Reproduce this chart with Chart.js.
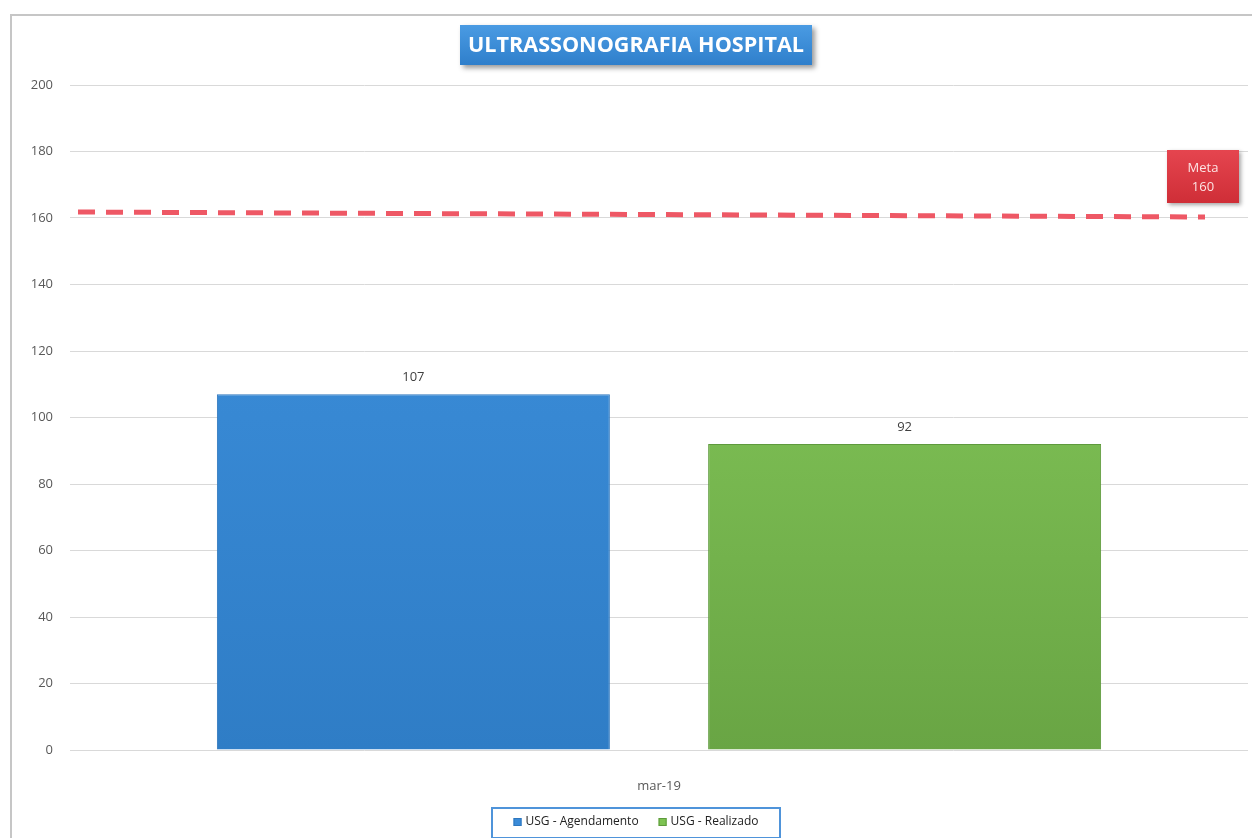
<!DOCTYPE html>
<html><head><meta charset="utf-8">
<script src="https://cdn.jsdelivr.net/npm/chart.js@4.4.0/dist/chart.umd.min.js"></script>
<style>
html,body{margin:0;padding:0;background:#fff;}
#wrap{position:relative;width:1252px;height:838px;overflow:hidden;}
#frame{position:absolute;left:10px;top:14px;right:-4px;bottom:-4px;border-left:2px solid #c6c6c6;border-top:2px solid #c6c6c6;}
canvas{position:absolute;left:0;top:0;}
</style></head><body>
<div id="wrap"><div id="frame"></div><canvas id="c" width="1252" height="838"></canvas></div>
<script>
const chartTitle = 'ULTRASSONOGRAFIA HOSPITAL';
const categories = ['mar-19'];
const seriesNames = ['USG - Agendamento', 'USG - Realizado'];
const agendamento = [107];
const realizado = [92];
const metaText = ['Meta', '160'];
const metaY = [161.8, 160.3];          // goal line, left end / right end
const yTickValues = [0, 20, 40, 60, 80, 100, 120, 140, 160, 180, 200];

const FONT = '"Open Sans", "Liberation Sans", sans-serif';

function vGrad(ctx, area, top, bottom) {
  const g = ctx.createLinearGradient(0, area.top, 0, area.bottom);
  g.addColorStop(0, top);
  g.addColorStop(1, bottom);
  return g;
}

const customPlugin = {
  id: 'custom',
  afterDatasetsDraw(chart) {
    const ctx = chart.ctx;
    const area = chart.chartArea;
    const yScale = chart.scales.y;

    // goal (meta) line drawn through the y scale
    const xl = area.left + 8, xr = area.right - 43;
    const yl = yScale.getPixelForValue(metaY[0]);
    const yr = yScale.getPixelForValue(metaY[metaY.length - 1]);
    ctx.save();
    ctx.strokeStyle = '#EE5865';
    ctx.lineWidth = 5;
    ctx.lineCap = 'butt';
    ctx.setLineDash([17, 11]);
    ctx.beginPath();
    ctx.moveTo(xl, yl);
    ctx.lineTo(xr, yr);
    ctx.stroke();
    ctx.restore();

    // meta label box anchored to the end of the goal line
    const w = 72, h = 53;
    const x0 = xr - 2 - w / 2, y0 = yr - 14 - h;
    ctx.save();
    ctx.shadowColor = 'rgba(0,0,0,0.35)';
    ctx.shadowBlur = 4;
    ctx.shadowOffsetX = 2;
    ctx.shadowOffsetY = 2;
    const g = ctx.createLinearGradient(0, y0, 0, y0 + h);
    g.addColorStop(0, '#E5454F');
    g.addColorStop(1, '#CF2E37');
    ctx.fillStyle = g;
    ctx.fillRect(x0, y0, w, h);
    ctx.restore();
    ctx.save();
    ctx.font = '13px ' + FONT;
    ctx.fillStyle = '#FCE4E4';
    ctx.textAlign = 'center';
    ctx.textBaseline = 'middle';
    ctx.fillText(metaText[0], x0 + w / 2, y0 + 18);
    ctx.fillText(metaText[1], x0 + w / 2, y0 + 37);
    ctx.restore();

    // value labels above bars
    chart.data.datasets.forEach((ds, di) => {
      const meta = chart.getDatasetMeta(di);
      meta.data.forEach((el, i) => {
        ctx.save();
        ctx.font = '13px ' + FONT;
        ctx.fillStyle = '#404040';
        ctx.textAlign = 'center';
        ctx.textBaseline = 'middle';
        ctx.fillText(String(ds.data[i]), el.x, el.y - 17);
        ctx.restore();
      });
    });
  },
  afterDraw(chart) {
    const ctx = chart.ctx;
    // title box
    const tx = 460, ty = 25, tw = 352, th = 40;
    ctx.save();
    ctx.shadowColor = 'rgba(0,0,0,0.4)';
    ctx.shadowBlur = 5;
    ctx.shadowOffsetX = 3;
    ctx.shadowOffsetY = 3;
    const g = ctx.createLinearGradient(0, ty, 0, ty + th);
    g.addColorStop(0, '#4A9BE3');
    g.addColorStop(1, '#2F7FCB');
    ctx.fillStyle = g;
    ctx.fillRect(tx, ty, tw, th);
    ctx.restore();
    ctx.save();
    ctx.font = 'bold 22px ' + FONT;
    ctx.fillStyle = '#FFFFFF';
    ctx.textAlign = 'center';
    ctx.textBaseline = 'middle';
    ctx.fillText(chartTitle, tx + tw / 2, ty + th / 2 + 1, 336);
    ctx.restore();

    // legend
    const items = chart.data.datasets;
    ctx.save();
    ctx.font = '12px ' + FONT;
    const box = 8, gapBox = 4, gapItem = 20;
    let total = 0;
    items.forEach((d, i) => {
      total += box + gapBox + ctx.measureText(d.label).width + (i < items.length - 1 ? gapItem : 0);
    });
    const cx = 636, cy = 822;
    const lx = 492, lw = 288, ly = 808, lh = 30;
    ctx.fillStyle = '#fff';
    ctx.fillRect(lx, ly, lw, lh);
    ctx.strokeStyle = '#4F94DA';
    ctx.lineWidth = 2;
    ctx.strokeRect(lx, ly, lw, lh);
    let x = cx - total / 2;
    items.forEach((d) => {
      ctx.fillStyle = d.legendColor;
      ctx.fillRect(x, cy - box / 2, box, box);
      ctx.strokeStyle = d.borderColor;
      ctx.lineWidth = 1;
      ctx.strokeRect(x + 0.5, cy - box / 2 + 0.5, box - 1, box - 1);
      x += box + gapBox;
      ctx.fillStyle = '#222';
      ctx.textAlign = 'left';
      ctx.textBaseline = 'middle';
      ctx.fillText(d.label, x, cy);
      x += ctx.measureText(d.label).width + gapItem;
    });
    ctx.restore();
  }
};

new Chart(document.getElementById('c'), {
  type: 'bar',
  data: {
    labels: categories,
    datasets: [
      {
        label: seriesNames[0],
        data: agendamento,
        legendColor: '#3A8BD8',
        backgroundColor: (c) => c.chart.chartArea ? vGrad(c.chart.ctx, c.chart.chartArea, '#3F93E0', '#2F7DC6') : '#3A8BD8',
        borderColor: '#2E77BE',
        borderWidth: 1,
        categoryPercentage: 0.834,
        barPercentage: 0.80
      },
      {
        label: seriesNames[1],
        data: realizado,
        legendColor: '#7DC352',
        backgroundColor: (c) => c.chart.chartArea ? vGrad(c.chart.ctx, c.chart.chartArea, '#8CD260', '#69A544') : '#7DC352',
        borderColor: '#5E9A3C',
        borderWidth: 1,
        categoryPercentage: 0.834,
        barPercentage: 0.80
      }
    ]
  },
  options: {
    responsive: false,
    animation: false,
    devicePixelRatio: 1,
    layout: { padding: { left: 12, top: 85, right: 4, bottom: 0 } },
    plugins: { legend: { display: false }, title: { display: false }, tooltip: { enabled: false } },
    scales: {
      x: {
        type: 'category',
        offset: true,
        grid: { display: false },
        border: { display: false },
        ticks: { color: '#595959', font: { family: FONT, size: 13 }, padding: 20 },
        afterFit: (s) => { s.height = 88; }
      },
      y: {
        min: 0,
        max: 200,
        afterBuildTicks: (s) => { s.ticks = yTickValues.map(v => ({ value: v })); },
        ticks: { color: '#595959', font: { family: FONT, size: 13 }, padding: 17 },
        grid: { color: '#d9d9d9', lineWidth: 1, drawTicks: false },
        border: { display: false },
        afterFit: (s) => { s.width = 58; }
      }
    }
  },
  plugins: [customPlugin]
});
</script>
</body></html>
